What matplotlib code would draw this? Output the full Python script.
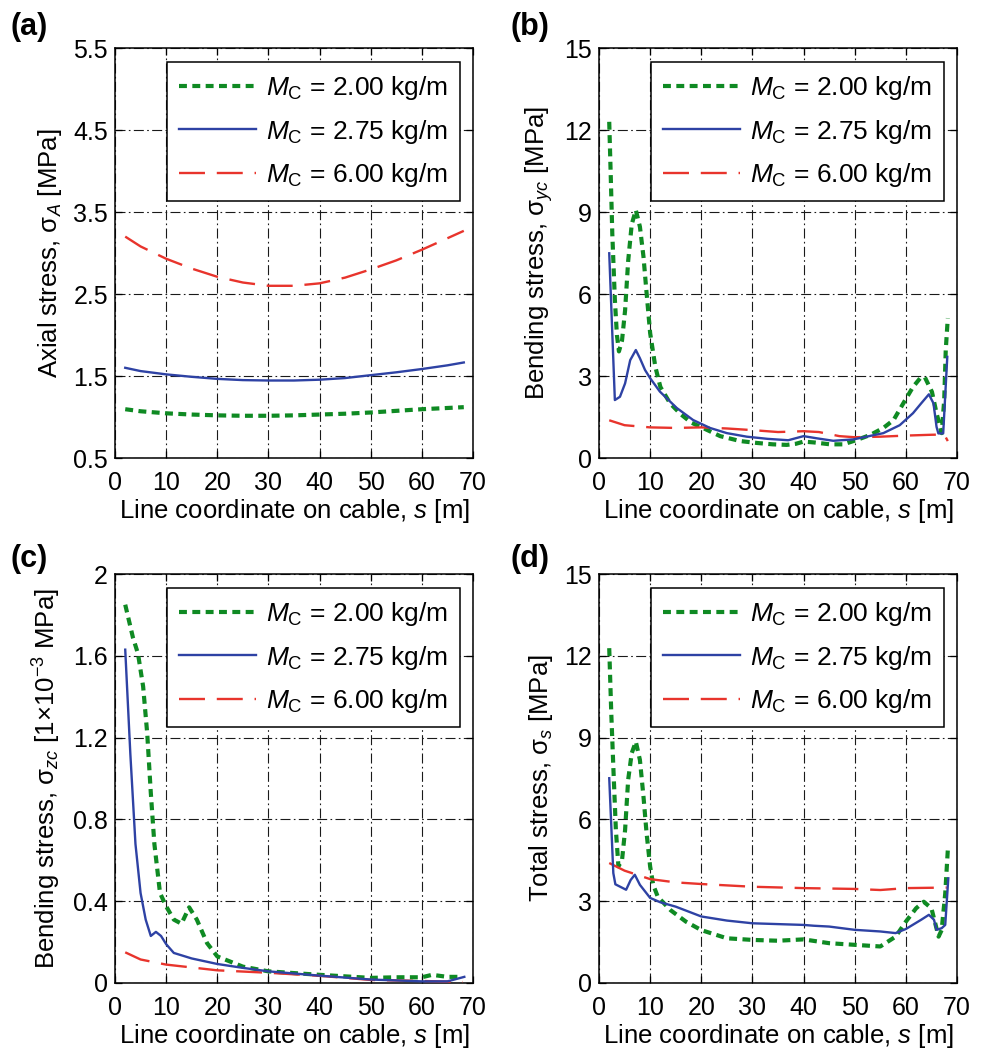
import matplotlib
matplotlib.use("Agg")
import matplotlib.pyplot as plt

plt.rcParams['font.family'] = ['Liberation Sans', 'DejaVu Sans']
plt.rcParams['mathtext.fontset'] = 'custom'
plt.rcParams['mathtext.rm'] = 'Liberation Sans'
plt.rcParams['mathtext.it'] = 'Liberation Sans:italic'
plt.rcParams['mathtext.bf'] = 'Liberation Sans:bold'

# ---------------- data ----------------
legend_labels = [r"$M_{\mathrm{C}}$ = 2.00 kg/m",
                 r"$M_{\mathrm{C}}$ = 2.75 kg/m",
                 r"$M_{\mathrm{C}}$ = 6.00 kg/m"]

# (a) axial stress
s_a = [2, 5, 10, 15, 20, 25, 30, 35, 40, 45, 50, 55, 60, 65, 68.2]
a_green = [1.095, 1.07, 1.045, 1.03, 1.02, 1.015, 1.015, 1.02, 1.03, 1.04, 1.055, 1.075, 1.095, 1.11, 1.12]
a_blue = [1.60, 1.56, 1.52, 1.49, 1.465, 1.45, 1.445, 1.445, 1.455, 1.475, 1.51, 1.545, 1.585, 1.63, 1.665]
a_red = [3.20, 3.08, 2.93, 2.81, 2.71, 2.64, 2.60, 2.60, 2.63, 2.70, 2.80, 2.91, 3.04, 3.18, 3.27]

# (b) bending stress sigma_yc
b_green_s = [2.0, 2.3, 2.6, 3.1, 3.5, 3.9, 4.5, 5.1, 5.7, 6.4, 7.2, 8.0, 8.7, 9.2, 10.0, 11.0, 12.0,
             13.9, 16.0, 18.0, 20.3, 23.7, 27.6, 30.9, 34.0, 36.7, 38.5, 40.0, 42.0, 45.2, 47.8,
             50.4, 53.0, 55.6, 57.6, 59.5, 61.4, 62.8, 63.7, 65.1, 66.0, 66.7, 67.0, 67.5, 67.8, 68.2]
b_green = [12.3, 10.3, 8.2, 5.8, 4.5, 3.9, 4.3, 5.4, 7.2, 8.55, 9.07, 8.46, 7.36, 6.26, 4.57, 3.35, 2.6,
           2.0, 1.6, 1.3, 1.1, 0.8, 0.62, 0.55, 0.5, 0.48, 0.52, 0.6, 0.57, 0.5, 0.5,
           0.66, 0.84, 1.1, 1.39, 2.0, 2.6, 2.92, 2.96, 2.42, 1.64, 1.14, 0.91, 2.12, 3.95, 5.12]
b_blue_s = [2.0, 3.1, 4.1, 5.1, 6.1, 7.2, 8.0, 9.0, 10.0, 11.9, 15.2, 18.4, 21.7, 25.0, 28.9, 33.0,
            37.0, 40.0, 42.6, 45.8, 49.7, 52.3, 55.6, 58.8, 61.4, 63.0, 64.5, 65.4, 66.0, 66.35,
            67.3, 68.1]
b_blue = [7.49, 2.12, 2.24, 2.73, 3.58, 3.95, 3.65, 3.22, 2.92, 2.43, 1.83, 1.39, 1.1, 0.91, 0.78, 0.7,
          0.65, 0.8, 0.72, 0.63, 0.68, 0.78, 0.91, 1.2, 1.64, 2.0, 2.33, 2.0, 1.14, 0.9,
          0.9, 3.7]
b_red_s = [2, 5, 10, 15, 20, 25, 30, 35, 40, 43, 47, 50, 55, 60, 65, 67.5, 68.2]
b_red = [1.38, 1.2, 1.12, 1.1, 1.12, 1.08, 1.02, 0.95, 0.98, 0.95, 0.8, 0.76, 0.78, 0.82, 0.85, 0.86, 0.62]

# (c) bending stress sigma_zc [1e-3 MPa]
c_green_s = [2, 3.5, 4.5, 5.5, 6.3, 7.0, 7.7, 8.8, 10, 11.5, 13, 14.5, 16, 18, 20, 25, 30, 40, 50,
             55, 60, 62, 65, 68]
c_green = [1.85, 1.69, 1.61, 1.45, 1.22, 0.93, 0.68, 0.44, 0.375, 0.31, 0.29, 0.37, 0.31, 0.195, 0.13,
           0.08, 0.057, 0.04, 0.025, 0.028, 0.028, 0.04, 0.03, 0.03]
c_blue_s = [2, 3, 4, 5, 6, 7, 8, 9, 10, 11.5, 15, 20, 25, 30, 40, 50, 60, 65, 68.3]
c_blue = [1.63, 1.12, 0.68, 0.44, 0.31, 0.23, 0.25, 0.23, 0.19, 0.147, 0.12, 0.093, 0.074, 0.057,
          0.036, 0.017, 0.008, 0.008, 0.03]
c_red_s = [2, 5, 10, 20, 30, 40, 50, 60, 68]
c_red = [0.15, 0.115, 0.09, 0.062, 0.05, 0.035, 0.015, 0.01, 0.005]

# (d) total stress sigma_s
d_green_s = [2.0, 2.4, 2.8, 3.3, 3.8, 4.5, 5.1, 5.7, 6.4, 7.2, 8.0, 8.7, 9.3, 10.0, 10.6, 11.5, 14,
             17, 20, 25, 30, 35, 40, 45, 50, 55, 58, 60, 62, 63.5, 65, 66.4, 67, 67.7, 68.2]
d_green = [12.28, 9.89, 7.93, 5.61, 4.28, 4.5, 5.61, 7.45, 8.43, 8.85, 8.18, 6.83, 5.5, 4.27, 3.6, 3.16,
           2.67, 2.25, 1.94, 1.64, 1.58, 1.55, 1.6, 1.46, 1.4, 1.34, 1.7, 2.25, 2.74, 2.98, 2.74, 1.7,
           1.94, 3.28, 4.87]
d_blue_s = [2, 2.8, 3.2, 5.3, 6.2, 7.0, 8.0, 10, 12, 15, 20, 25, 30, 35, 40, 42, 45, 50, 55, 58, 60,
            63, 64.5, 65.5, 66, 67, 67.7, 68.3]
d_blue = [7.51, 4.03, 3.62, 3.42, 3.78, 3.97, 3.6, 3.12, 2.96, 2.8, 2.44, 2.29, 2.19, 2.16, 2.13, 2.1,
          2.07, 1.95, 1.89, 1.83, 1.98, 2.32, 2.5, 2.32, 1.95, 2.01, 2.13, 3.84]
d_red_s = [2, 5, 10, 15, 20, 30, 40, 50, 55, 60, 68]
d_red = [4.4, 4.12, 3.81, 3.69, 3.63, 3.53, 3.48, 3.45, 3.41, 3.48, 3.5]

x_ticks = [0, 10, 20, 30, 40, 50, 60, 70]
a_yticks = [0.5, 1.5, 2.5, 3.5, 4.5, 5.5]
b_yticks = [0, 3, 6, 9, 12, 15]
c_yticks = [0, 0.4, 0.8, 1.2, 1.6, 2.0]
c_yticklabels = ['0', '0.4', '0.8', '1.2', '1.6', '2']
d_yticks = [0, 3, 6, 9, 12, 15]

# ---------------- styling ----------------
GREEN = '#0f8a23'
BLUE = '#2e42a4'
RED = '#e8342c'
FS_TICK = 18
FS_LAB = 18.5
FS_LEG = 19

W, H = 986, 1054
fig = plt.figure(figsize=(W / 100, H / 100), dpi=100)


def make_ax(l, r, t, b):
    return fig.add_axes([l / W, 1 - b / H, (r - l) / W, (b - t) / H])


ax_a = make_ax(115, 473, 48, 458)
ax_b = make_ax(599, 957, 48, 458)
ax_c = make_ax(115, 473, 574, 983)
ax_d = make_ax(599, 957, 574, 983)


def draw(ax, g, b, r, yticks, ylabel, yticklabels=None):
    lg, = ax.plot(g[0], g[1], color=GREEN, lw=3.0, linestyle=(0, (1.9, 1.3)),
                  dash_capstyle='butt', zorder=3)
    lb, = ax.plot(b[0], b[1], color=BLUE, lw=1.7, zorder=4)
    lr, = ax.plot(r[0], r[1], color=RED, lw=1.7, linestyle=(0, (11, 5)), zorder=3)
    ax.set_xlim(0, 70)
    ax.set_ylim(yticks[0], yticks[-1])
    ax.set_xticks(x_ticks)
    ax.set_yticks(yticks)
    if yticklabels is not None:
        ax.set_yticklabels(yticklabels)
    ax.grid(True, color='#1a1a1a', lw=0.8, linestyle=(0, (9, 3, 1.5, 3)))
    ax.tick_params(direction='in', top=True, right=True, labelsize=FS_TICK, length=5,
                   width=0.9)
    ax.tick_params(axis='x', pad=9.5)
    ax.tick_params(axis='y', pad=5)
    for sp in ax.spines.values():
        sp.set_linewidth(1.1)
    ax.set_xlabel(r"Line coordinate on cable, $\mathit{s}$ [m]", fontsize=FS_LAB, labelpad=1)
    ax.set_ylabel(ylabel, fontsize=FS_LAB, labelpad=7)
    leg = ax.legend([lg, lb, lr], legend_labels, loc='upper right',
                    bbox_to_anchor=(0.964, 0.966), borderaxespad=0, fontsize=FS_LEG,
                    fancybox=False, framealpha=1, edgecolor='black', handlelength=2.9,
                    handletextpad=0.4, labelspacing=0.6, borderpad=0.45)
    leg.get_frame().set_linewidth(1.1)
    leg.set_zorder(5)


draw(ax_a, (s_a, a_green), (s_a, a_blue), (s_a, a_red), a_yticks,
     r"Axial stress, σ$_{A}$ [MPa]")
draw(ax_b, (b_green_s, b_green), (b_blue_s, b_blue), (b_red_s, b_red), b_yticks,
     r"Bending stress, σ$_{yc}$ [MPa]")
draw(ax_c, (c_green_s, c_green), (c_blue_s, c_blue), (c_red_s, c_red), c_yticks,
     r"Bending stress, σ$_{zc}$ [1×10$^{-3}$ MPa]", c_yticklabels)
draw(ax_d, (d_green_s, d_green), (d_blue_s, d_blue), (d_red_s, d_red), d_yticks,
     r"Total stress, σ$_{s}$ [MPa]")

for lab, x, y in [("(a)", 11, 12), ("(b)", 510, 12), ("(c)", 11, 544), ("(d)", 510, 544)]:
    fig.text(x / W, 1 - y / H, lab, fontsize=22, fontweight='bold', ha='left', va='top')

fig.savefig("out.png", dpi=100)
